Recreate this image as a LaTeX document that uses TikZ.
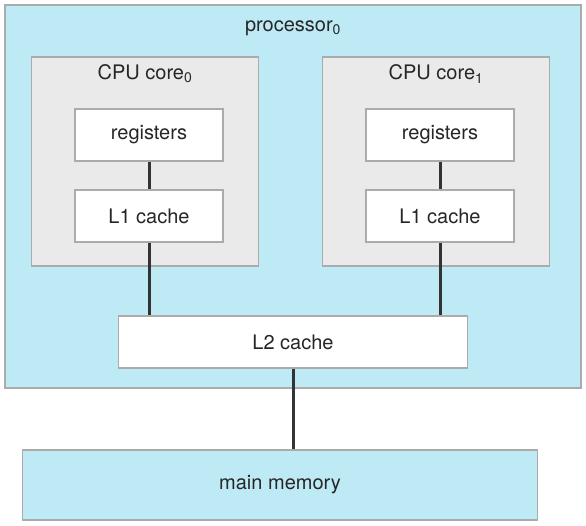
\documentclass[tikz,border=0pt]{standalone}
\usepackage{fontspec}
\setmainfont{TeX Gyre Heros}
\usepackage{tikz}

\definecolor{procblue}{HTML}{BEEAF6}
\definecolor{coregray}{HTML}{EAEAEA}
\definecolor{edgegray}{HTML}{ABABAB}
\definecolor{wiredark}{HTML}{333333}

\tikzset{
  unit/.style={draw=edgegray, line width=1.5pt, fill=white, minimum width=148pt,
    minimum height=52pt, inner sep=0pt, font=\fontsize{20}{24}\selectfont, text=black!85},
  corebox/.style={draw=edgegray, line width=1.5pt, fill=coregray, minimum width=227pt,
    minimum height=209pt, inner sep=0pt},
  bluebox/.style={draw=edgegray, line width=1.5pt, fill=procblue, inner sep=0pt},
  lbl/.style={font=\fontsize{20}{24}\selectfont, text=black!85},
  wire/.style={draw=wiredark, line width=3pt}
}

\begin{document}
\begin{tikzpicture}[x=1pt, y=-1pt]
        \useasboundingbox (0,0) rectangle (586,526);
        \node[bluebox, minimum width=576pt, minimum height=383pt] (proc) at (293,196.5) {};
        \node[lbl] (proclbl) at (293,28) {processor\textsubscript{0}};
        \node[corebox] (core0) at (145,161.5) {};
        \node[corebox] (core1) at (436,161.5) {};
        \node[lbl] (corelbl0) at (145,74) {CPU core\textsubscript{0}};
        \node[lbl] (corelbl1) at (436,74) {CPU core\textsubscript{1}};
        \node[unit] (reg0) at (149,135) {registers};
        \node[unit] (reg1) at (440,135) {registers};
        \node[unit] (lone0) at (149,216) {L1 cache};
        \node[unit] (lone1) at (440,216) {L1 cache};
        \node[unit, minimum width=349pt] (ltwo) at (293,342) {L2 cache};
        \node[bluebox, minimum width=515pt, minimum height=70pt, lbl] (mem) at (280,485) {main memory};
        \draw[wire] (reg0.south) -- (lone0.north);
        \draw[wire] (reg1.south) -- (lone1.north);
        \draw[wire] (lone0.south) -- (lone0.south |- ltwo.north);
        \draw[wire] (lone1.south) -- (lone1.south |- ltwo.north);
        \draw[wire] (ltwo.south) -- (ltwo.south |- mem.north);
      \end{tikzpicture}
\end{document}
